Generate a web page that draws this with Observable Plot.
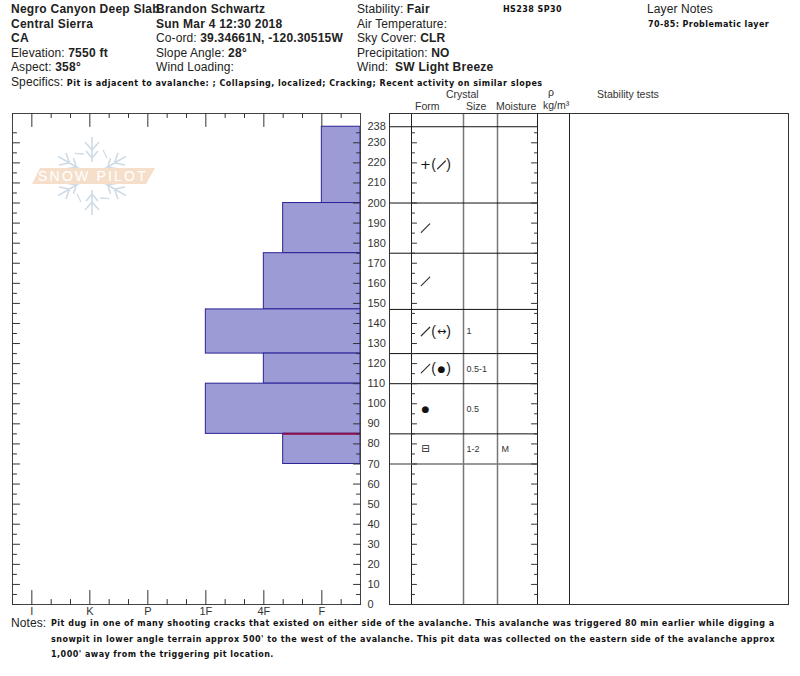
<!DOCTYPE html>
<html><head><meta charset="utf-8">
<script src="https://cdn.jsdelivr.net/npm/d3@7"></script>
<script src="https://cdn.jsdelivr.net/npm/@observablehq/plot@0.6"></script>
<style>
html,body{margin:0;padding:0;background:#fff;width:800px;height:676px;overflow:hidden}
body{position:relative;font-family:"Liberation Sans",Arial,sans-serif;color:#222}
.t{position:absolute;white-space:nowrap;font-size:12px;line-height:12px;z-index:3;letter-spacing:.1px}
.t b{letter-spacing:.25px}
.s{font-family:"DejaVu Sans",sans-serif;font-weight:700;font-size:8px;letter-spacing:.42px;color:#111}
.l{letter-spacing:.49px}
.h{font-size:10.5px;color:#333;letter-spacing:0}
svg{background:transparent!important}
#left,#right,#mark{position:absolute;top:100px}
#left{left:0;z-index:2}#right{left:388px;z-index:2}
#mark{left:0;top:0;z-index:1}
</style></head><body>
<svg id="mark" width="200" height="230" viewBox="0 0 200 230"></svg>
<div id="left"></div><div id="right"></div>
<script>
// --- pit layers (depth in cm) ---
const layerTop      = [238, 200, 175, 147, 125, 110, 85];
const layerBottom   = [200, 175, 147, 125, 110, 85, 70];
const layerHardness = [5, 13/3, 4, 3, 4, 3, 13/3];
const layerPrimary  = ["+", "/", "/", "/", "/", "●", "⊟"];
const layerSecondary = ["/", "", "", "↔", "●", "", ""];
const layerSize     = ["", "", "", "1", "0.5-1", "0.5", "1-2"];
const layerMoisture = ["", "", "", "", "", "", "M"];
const layers = layerTop.map((t, i) => ({top: t, bottom: layerBottom[i], mid: (t + layerBottom[i]) / 2,
  hardness: layerHardness[i], primary: layerPrimary[i], secondary: layerSecondary[i],
  size: layerSize[i], moisture: layerMoisture[i]}));
const problemDepth = [85];

// --- axes ---
const hardnessLabels = ["I", "K", "P", "1F", "4F", "F"];
const hardnessMajor  = [0, 1, 2, 3, 4, 5];
const hardnessMinor  = [-1/3, 1/3, 2/3, 4/3, 5/3, 7/3, 8/3, 10/3, 11/3, 13/3, 14/3, 16/3];
const depthLabels = [0,10,20,30,40,50,60,70,80,90,100,110,120,130,140,150,160,170,180,190,200,210,220,230,238];
const depthMajor  = [0,10,20,30,40,50,60,70,80,90,100,110,120,130,140,150,160,170,180,190,200,210,220,230];
const depthMinor  = [5,15,25,35,45,55,65,75,85,95,105,115,125,135,145,155,165,175,185,195,205,215,225,235];
const hardnessDomain = [-1/3, 17/3];
const depthDomain = [0, 244.6];

const tickShape = {draw(c, l) { c.moveTo(0, 0); c.lineTo(0, -l); }};
const slashShape = {draw(c, l) { c.moveTo(0, l / 2); c.lineTo(0, -l / 2); }};
const font = {fontFamily: '"Liberation Sans",Arial,sans-serif', fontSize: "11px", color: "#333", background: "transparent"};
const ink = "#333";
const yTicks = (vals, edge, len, rot) => Plot.vector(vals, {x: () => edge, y: d => d, length: len, rotate: rot,
  anchor: "start", shape: tickShape, stroke: ink, strokeWidth: 1});
const xTicks = (vals, len, rot, fa) => Plot.vector(vals, {x: d => d, frameAnchor: fa, length: len, rotate: rot,
  anchor: "start", shape: tickShape, stroke: ink, strokeWidth: 1});

const left = Plot.plot({
  width: 389, height: 520, marginLeft: 12, marginRight: 29, marginTop: 13, marginBottom: 16,
  style: font,
  x: {domain: hardnessDomain, axis: null},
  y: {domain: depthDomain, axis: null},
  length: {type: "identity"},
  marks: [
    Plot.rect(layers, {x1: "hardness", x2: () => hardnessDomain[1], y1: "bottom", y2: "top",
      fill: "#9c9bd6", stroke: "#2b2296", strokeWidth: 1}),
    Plot.ruleY(problemDepth, {x1: layerHardness[6], x2: () => hardnessDomain[1], stroke: "#8a0a4a", strokeWidth: 2}),
    Plot.frame({stroke: "#444"}),
    xTicks(hardnessMajor, 13, 180, "top"), xTicks(hardnessMinor, 4, 180, "top"),
    xTicks(hardnessMajor, 14, 0, "bottom"), xTicks(hardnessMinor, 5, 0, "bottom"),
    yTicks(depthMajor, hardnessDomain[0], 7, 90), yTicks(depthMinor, hardnessDomain[0], 4, 90),
    yTicks(depthMajor, hardnessDomain[1], 7, 270), yTicks(depthMinor, hardnessDomain[1], 4, 270),
    Plot.axisX(hardnessMajor, {anchor: "bottom", tickSize: 0, tickPadding: 3, label: null, tickFormat: i => hardnessLabels[i], fill: "#333"}),
    Plot.axisY(depthLabels, {anchor: "right", tickSize: 0, tickPadding: 7, label: null, fill: "#333"})
  ]
});
document.getElementById("left").append(left);

// columns of the layer table: 0 edge, 1 form, 2 size, 3 moisture, 4 density, 5 tests, 6 end
const columnIndex = [0, 1, 2, 3, 4, 5, 6];
const columnEdges = [1, 23, 75, 109, 149, 181, 400];
const columnScale = d3.scaleLinear(columnIndex, columnEdges);
const isSlash = v => v === "/";
const glyphSize = v => v === "●" ? 9 : v === "⊟" ? 10 : 11;
const right = Plot.plot({
  width: 412, height: 520, marginLeft: 1, marginRight: 12, marginTop: 13, marginBottom: 16,
  style: font,
  x: {transform: columnScale, domain: [1, 400], range: [1, 400], axis: null},
  y: {domain: depthDomain, axis: null},
  length: {type: "identity"},
  marks: [
    Plot.ruleX([2, 3], {stroke: "#777", strokeWidth: 1.5}),
    Plot.ruleX([1, 4, 5], {stroke: "#222", strokeWidth: 1}),
    Plot.ruleY(layerTop, {x1: 0, x2: 4, stroke: "#111", strokeWidth: 1}),
    Plot.ruleY([layerBottom[6]], {x1: 0, x2: 4, stroke: "#777", strokeWidth: 1.5}),
    Plot.frame({stroke: "#333"}),
    yTicks(depthMajor, 1, 5, 90), yTicks(depthMinor, 1, 3, 90),
    yTicks(depthMajor, 4, 6, 270), yTicks(depthMinor, 4, 3, 270),
    // grain form symbols: primary, then secondary in brackets
    Plot.text(layers.filter(d => !isSlash(d.primary)), {x: () => 1, y: "mid", text: "primary", dx: 14, textAnchor: "middle",
      fontFamily: '"DejaVu Sans",sans-serif', fontSize: d => d.primary === "+" ? 13 : glyphSize(d.primary), fill: "#111"}),
    Plot.vector(layers.filter(d => isSlash(d.primary)), {x: () => 1, y: "mid", dx: 14, length: 12, rotate: 45, shape: slashShape,
      anchor: "start", stroke: "#333", strokeWidth: 1.2}),
    Plot.text(layers.filter(d => d.secondary), {x: () => 1, y: "mid", text: () => "(", dx: 22, textAnchor: "middle", fontSize: 14, fill: "#222"}),
    Plot.text(layers.filter(d => d.secondary), {x: () => 1, y: "mid", text: () => ")", dx: 37, textAnchor: "middle", fontSize: 14, fill: "#222"}),
    Plot.vector(layers.filter(d => isSlash(d.secondary)), {x: () => 1, y: "mid", dx: 30, length: 11, rotate: 45, shape: slashShape,
      anchor: "start", stroke: "#333", strokeWidth: 1.2}),
    Plot.text(layers.filter(d => d.secondary && !isSlash(d.secondary)), {x: () => 1, y: "mid", text: "secondary", dx: 30, textAnchor: "middle",
      fontFamily: '"DejaVu Sans",sans-serif', fontSize: d => glyphSize(d.secondary), fill: "#111"}),
    Plot.text(layers, {x: () => 2, y: "mid", text: "size", dx: 3, textAnchor: "start", fontSize: 9, fill: "#333"}),
    Plot.text(layers, {x: () => 3, y: "mid", text: "moisture", dx: 4, textAnchor: "start", fontSize: 9, fill: "#333"})
  ]
});
document.getElementById("right").append(right);

// --- header text ---
function put(x, y, html, cls) {
  const d = document.createElement("div");
  d.className = "t " + (cls || "");
  d.style.left = x + "px"; d.style.top = (y - 6) + "px";
  d.innerHTML = html;
  document.body.append(d);
}
const rowY = [9, 24, 38, 53, 67];
const col1 = ["<b>Negro Canyon Deep Slab</b>", "<b>Central Sierra</b>", "<b>CA</b>", "Elevation: <b>7550 ft</b>", "Aspect: <b>358°</b>"];
const col2 = ["<b>Brandon Schwartz</b>", "<b>Sun Mar 4 12:30 2018</b>", "Co-ord: <b>39.34661N, -120.30515W</b>", "Slope Angle: <b>28°</b>", "Wind Loading:"];
const col3 = ["Stability: <b>Fair</b>", "Air Temperature:", "Sky Cover: <b>CLR</b>", "Precipitation: <b>NO</b>", "Wind:&nbsp; <b>SW Light Breeze</b>"];
col1.forEach((s, i) => put(11, rowY[i], s));
col2.forEach((s, i) => put(156, rowY[i], s));
col3.forEach((s, i) => put(357, rowY[i], s));
put(503, 10, "HS238 SP30", "s");
put(647, 9, "Layer Notes");
put(648, 25, "70-85: Problematic layer", "s");
put(11, 82, 'Specifics: <span class="s l">Pit is adjacent to avalanche: ; Collapsing, localized; Cracking; Recent activity on similar slopes</span>');
put(446, 94, "Crystal", "h");
put(415, 106, "Form", "h");
put(466, 106, "Size", "h");
put(496, 106, "Moisture", "h");
put(548, 92, "ρ", "h");
put(543, 105, "kg/m³", "h");
put(597, 94, "Stability tests", "h");
put(11, 623, "Notes:");
put(51, 624, "Pit dug in one of many shooting cracks that existed on either side of the avalanche. This avalanche was triggered 80 min earlier while digging a", "s l");
put(51, 640, "snowpit in lower angle terrain approx 500' to the west of the avalanche. This pit data was collected on the eastern side of the avalanche approx", "s l");
put(51, 655, "1,000' away from the triggering pit location.", "s l");

// --- Snow Pilot watermark ---
const mark = document.getElementById("mark");
let arms = "";
for (const a of [0, 60, 120, 180, 240, 300]) {
  arms += `<g transform="translate(92 176) rotate(${a})" stroke="#cfdbe5" stroke-width="1.6" fill="none">
    <path d="M0 -14V-39M-7 -34L0 -26L7 -34M-6 -25L0 -18L6 -25"/>
    <path d="M11 -26L15 -18" stroke-width="1.3"/></g>`;
}
mark.innerHTML = arms + `<path d="M40 168H155L146 184H32Z" fill="#f6dfca"/>
  <text x="93" y="181" text-anchor="middle" font-family="Liberation Sans" font-size="14" letter-spacing="2.2" fill="#fff">SNOW PILOT</text>`;
</script>
</body></html>
